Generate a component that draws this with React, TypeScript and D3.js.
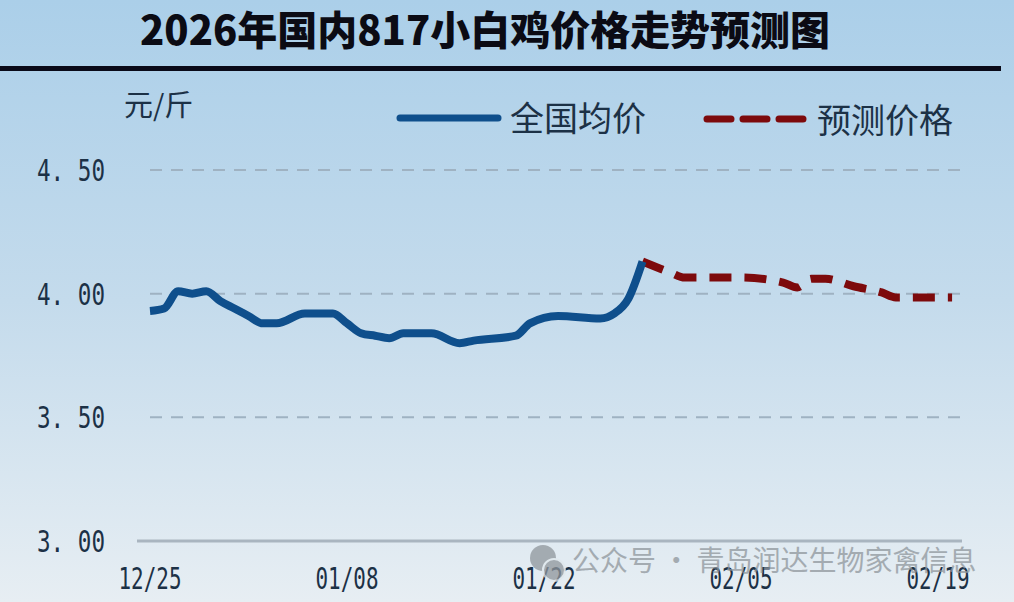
import * as d3 from 'd3';

// 实际价格（全国均价）
const actualDates = [
  '2025-12-25', '2025-12-26', '2025-12-27', '2025-12-28', '2025-12-29', '2025-12-30',
  '2025-12-31', '2026-01-01', '2026-01-02', '2026-01-03', '2026-01-05', '2026-01-07',
  '2026-01-08', '2026-01-09', '2026-01-10', '2026-01-11', '2026-01-12', '2026-01-14',
  '2026-01-16', '2026-01-17', '2026-01-20', '2026-01-21', '2026-01-23', '2026-01-26',
  '2026-01-27', '2026-01-28', '2026-01-29',
];
const actualValues = [
  3.93, 3.94, 4.01, 4.0, 4.01, 3.97,
  3.94, 3.91, 3.88, 3.88, 3.92, 3.92,
  3.88, 3.84, 3.83, 3.82, 3.84, 3.84,
  3.8, 3.81, 3.83, 3.88, 3.91, 3.9,
  3.92, 3.98, 4.13,
];

// 预测价格
const forecastDates = [
  '2026-01-29', '2026-01-31', '2026-02-01', '2026-02-03', '2026-02-05', '2026-02-08',
  '2026-02-09', '2026-02-10', '2026-02-11', '2026-02-13', '2026-02-15', '2026-02-16',
  '2026-02-20',
];
const forecastValues = [
  4.13, 4.085, 4.065, 4.065, 4.065, 4.045,
  4.025, 4.06, 4.06, 4.03, 4.005, 3.985,
  3.985,
];

const xTicks = ['2025-12-25', '2026-01-08', '2026-01-22', '2026-02-05', '2026-02-19'];
const yTicks = [3.0, 3.5, 4.0, 4.5];

const W = 1014;
const H = 602;
const parse = d3.timeParse('%Y-%m-%d');
const fmtTick = d3.timeFormat('%m/%d');

export default function App() {
  const x = d3
    .scaleTime()
    .domain([parse('2025-12-25')!, parse('2026-02-19')!])
    .range([150, 938]);
  const y = d3.scaleLinear().domain([3, 4.5]).range([541, 170]);

  const line = d3
    .line<[Date, number]>()
    .x((d) => x(d[0]))
    .y((d) => y(d[1]))
    .curve(d3.curveMonotoneX);

  const actual = actualDates.map((d, i) => [parse(d)!, actualValues[i]] as [Date, number]);
  const forecast = forecastDates.map((d, i) => [parse(d)!, forecastValues[i]] as [Date, number]);

  const blue = '#0f4f8c';
  const red = '#7d0a0c';
  const ink = '#1c3146';

  return (
    <svg
      width={W}
      height={H}
      style={{ position: 'absolute', left: 0, top: 0 }}
      fontFamily="'Noto Sans CJK SC', 'Noto Sans', sans-serif"
    >
      <defs>
        <linearGradient id="bg" x1="0" y1="0" x2="0" y2="1">
          <stop offset="0" stopColor="#abcfe9" />
          <stop offset="0.5" stopColor="#c4dbec" />
          <stop offset="1" stopColor="#e7eef3" />
        </linearGradient>
      </defs>
      <rect width={W} height={H} fill="url(#bg)" />

      {/* 标题 */}
      <text
        x={140}
        y={45}
        fontSize={40}
        fontWeight={900}
        fill="#0b0b14"
        textLength={690}
        lengthAdjust="spacingAndGlyphs"
      >
        2026年国内817小白鸡价格走势预测图
      </text>
      <rect x={0} y={66} width={1001} height={5} fill="#0a0a18" />

      {/* 单位 */}
      <text x={124} y={116} fontSize={29} fill={ink}>
        元/斤
      </text>

      {/* 图例 */}
      <line x1={400} y1={118} x2={498} y2={118} stroke={blue} strokeWidth={7} strokeLinecap="round" />
      <text x={510} y={131} fontSize={34} fill={ink}>
        全国均价
      </text>
      <line
        x1={707}
        y1={119}
        x2={803}
        y2={119}
        stroke={red}
        strokeWidth={7}
        strokeDasharray="24 12"
        strokeLinecap="round"
      />
      <text x={817} y={133} fontSize={34} fill={ink}>
        预测价格
      </text>

      {/* 网格与Y轴 */}
      {yTicks.map((t) => (
        <g key={t}>
          {t > 3 ? (
            <line
              x1={150}
              x2={960}
              y1={y(t)}
              y2={y(t)}
              stroke="#9fb2c2"
              strokeWidth={2}
              strokeDasharray="12 9"
            />
          ) : (
            <line x1={137} x2={962} y1={y(t)} y2={y(t)} stroke="#a9b5c0" strokeWidth={3} />
          )}
          <text
            x={37}
            y={y(t) + 11}
            fontSize={30}
            fontFamily="'DejaVu Sans Mono', monospace"
            fill={ink}
            textLength={68}
            lengthAdjust="spacingAndGlyphs"
          >
            {t.toFixed(2).replace('.', '. ')}
          </text>
        </g>
      ))}

      {/* X轴标签 */}
      {xTicks.map((d) => (
        <text
          key={d}
          x={x(parse(d)!)}
          y={589}
          fontSize={30}
          fontFamily="'DejaVu Sans Mono', monospace"
          fill={ink}
          textAnchor="middle"
          textLength={63}
          lengthAdjust="spacingAndGlyphs"
        >
          {fmtTick(parse(d)!)}
        </text>
      ))}

      {/* 水印 */}
      <g opacity={0.75}>
        <circle cx={543} cy={558} r={13} fill="#8f969c" />
        <circle cx={554} cy={570} r={11} fill="#8f969c" stroke="#dfe7ec" strokeWidth={2} />
        <text x={572} y={571} fontSize={28} fill="#8f969c">
          公众号 · 青岛润达生物家禽信息
        </text>
      </g>

      {/* 折线 */}
      <path d={line(forecast) ?? ''} fill="none" stroke={red} strokeWidth={8} strokeDasharray="22 13" />
      <path d={line(actual) ?? ''} fill="none" stroke={blue} strokeWidth={8} strokeLinejoin="round" />
    </svg>
  );
}
